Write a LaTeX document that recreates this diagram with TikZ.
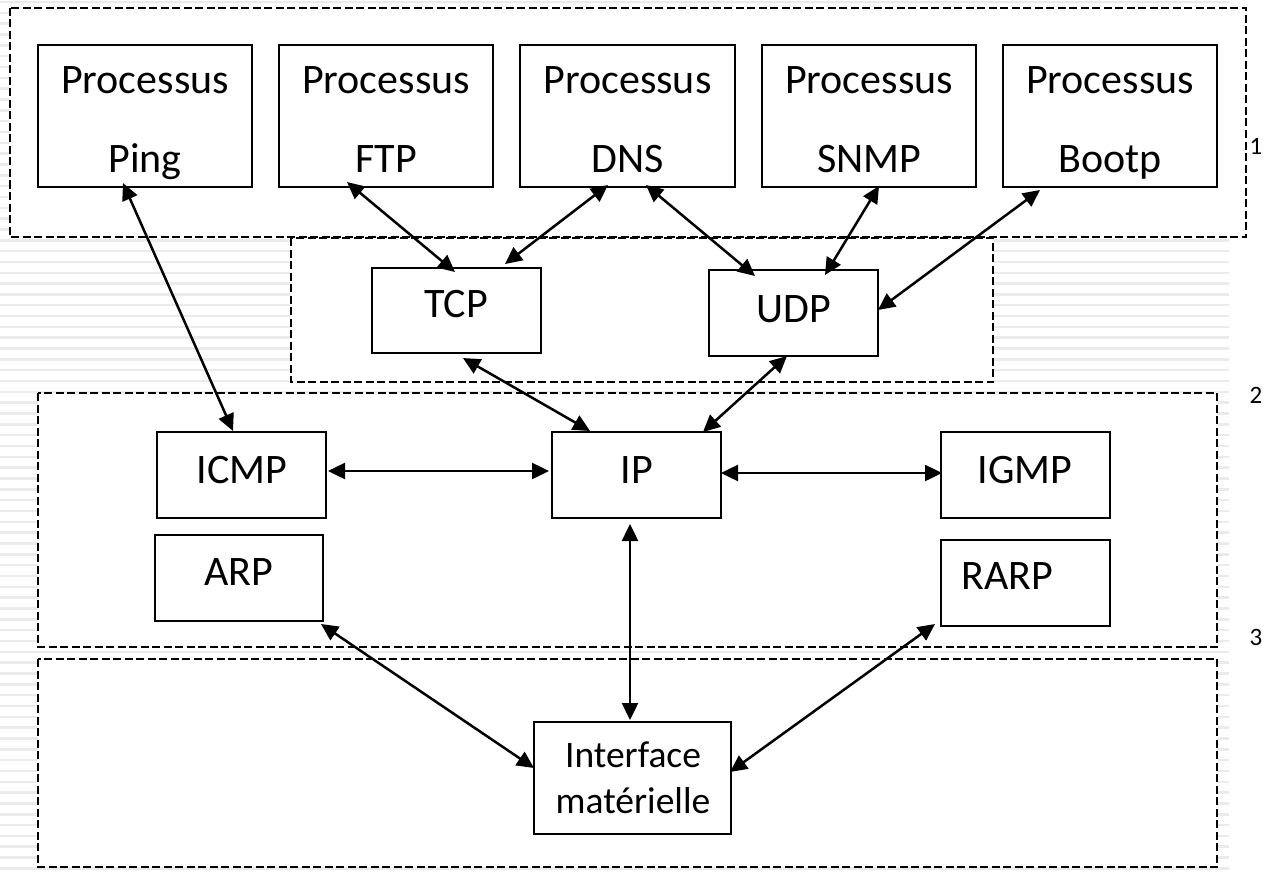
\documentclass[tikz,border=0pt]{standalone}
\usepackage{fontspec}
\setmainfont{Carlito}
\usetikzlibrary{arrows.meta}
\begin{document}
\begin{tikzpicture}[x=1pt,y=-1pt,
  box/.style={draw,line width=2pt,fill=white,inner sep=0pt},
  pbox/.style={box,minimum width=214pt,minimum height=142pt},
  sbox/.style={box,minimum width=169pt,minimum height=86pt},
  lbl/.style={anchor=base,inner sep=0pt,font=\fontsize{42}{50}\selectfont},
  ilbl/.style={anchor=base,inner sep=0pt,font=\fontsize{37.5}{45}\selectfont},
  layer/.style={draw,line width=2.2pt,dash pattern=on 8pt off 3.5pt,fill=white},
  link/.style={line width=2.5pt,{Triangle[length=17pt,width=16pt]}-{Triangle[length=17pt,width=16pt]}},
  stripe/.style={line width=2.5pt,draw=gray!16},
  num/.style={font=\fontsize{25}{30}\selectfont,inner sep=0pt}]
\useasboundingbox (0,0) rectangle (1264,872);
\fill[white] (0,0) rectangle (1264,872);
% background stripes
\foreach \k in {0,...,80} {
  \draw[stripe] (0,{2+10.83*\k}) -- (1229,{2+10.83*\k});
}
% layer frames
\draw[layer] (10,8) rectangle (1246,237);
\draw[layer] (291,238) rectangle (993,382);
\draw[layer] (38,393) rectangle (1217,647);
\draw[layer] (38,659) rectangle (1217,867);
% boxes
\node[pbox] (ping)  at (145,116) {};
\node[pbox] (ftp)   at (386,116) {};
\node[pbox,minimum width=215pt] (dns) at (627.5,116) {};
\node[pbox] (snmp)  at (869,116) {};
\node[pbox] (bootp) at (1110,116) {};
\node[sbox,minimum height=85pt] (tcp) at (456.5,310.5) {};
\node[sbox] (udp)  at (793.5,313) {};
\node[sbox] (icmp) at (241.5,475) {};
\node[sbox] (ip)   at (636.5,475) {};
\node[sbox] (igmp) at (1025.5,475) {};
\node[sbox,minimum width=168pt] (arp) at (239,578) {};
\node[sbox] (rarp) at (1025.5,583) {};
\node[box,minimum width=197pt,minimum height=112pt] (iface) at (632.5,778) {};
% connectors
\draw[link] ([xshift=-22,yshift=5]ping.south) -- ([xshift=-8.5]icmp.north);
\draw[link] ([xshift=-39,yshift=6]ftp.south) -- ([xshift=-1.5,yshift=-5]tcp.north);
\draw[link] ([xshift=-19.5,yshift=3]dns.south) -- ([xshift=48.5,yshift=3]tcp.north);
\draw[link] ([xshift=18.5,yshift=3]dns.south) -- ([xshift=-38.5,yshift=-7]udp.north);
\draw[link] ([xshift=10,yshift=2]snmp.south) -- ([xshift=31.5,yshift=-6]udp.north);
\draw[link] ([xshift=-70,yshift=-2]bootp.south) -- ([xshift=-1,yshift=3]udp.east);
\draw[link] ([xshift=6.5,yshift=-4]tcp.south) -- ([xshift=-46.5]ip.north);
\draw[link] ([xshift=-6.5,yshift=1]udp.south) -- ([xshift=66.5,yshift=-1]ip.north);
\draw[link] ([xshift=1,yshift=4]icmp.east) -- ([xshift=-2,yshift=4]ip.west);
\draw[link] ([xshift=-1,yshift=2]ip.east) -- ([xshift=2,yshift=2]igmp.west);
\draw[link] ([xshift=-6.5,yshift=-5]ip.south) -- ([xshift=-2.5,yshift=1]iface.north);
\draw[link] ([xshift=-3,yshift=-2]arp.south east) -- ([xshift=1,yshift=10]iface.west);
\draw[link] ([xshift=-5,yshift=3]rarp.south west) -- ([xshift=-2,yshift=6]iface.east);
% texts
\node[lbl] (pingA) at (145,94) {Processus};
\node[lbl] (pingB) at (145,172) {Ping};
\node[lbl] (ftpA) at (386,94) {Processus};
\node[lbl] (ftpB) at (386,172) {FTP};
\node[lbl] (dnsA) at (627.5,94) {Processus};
\node[lbl] (dnsB) at (627.5,172) {DNS};
\node[lbl] (snmpA) at (869,94) {Processus};
\node[lbl] (snmpB) at (869,172) {SNMP};
\node[lbl] (bootpA) at (1110,94) {Processus};
\node[lbl] (bootpB) at (1110,172) {Bootp};
\node[lbl] (tcpT) at (456,317) {TCP};
\node[lbl] (udpT) at (794,322) {UDP};
\node[lbl] (icmpT) at (242,483) {ICMP};
\node[lbl] (ipT) at (637,483) {IP};
\node[lbl] (igmpT) at (1025,483) {IGMP};
\node[lbl] (arpT) at (239,585) {ARP};
\node[lbl] (rarpT) at (1007,589) {RARP};
\node[ilbl] (ifaceA) at (633,767) {Interface};
\node[ilbl] (ifaceB) at (633,813) {matérielle};
% layer numbers
\node[num] (n1) at (1256,146) {1};
\node[num] (n2) at (1256,395) {2};
\node[num] (n3) at (1256,637) {3};
\end{tikzpicture}
\end{document}
